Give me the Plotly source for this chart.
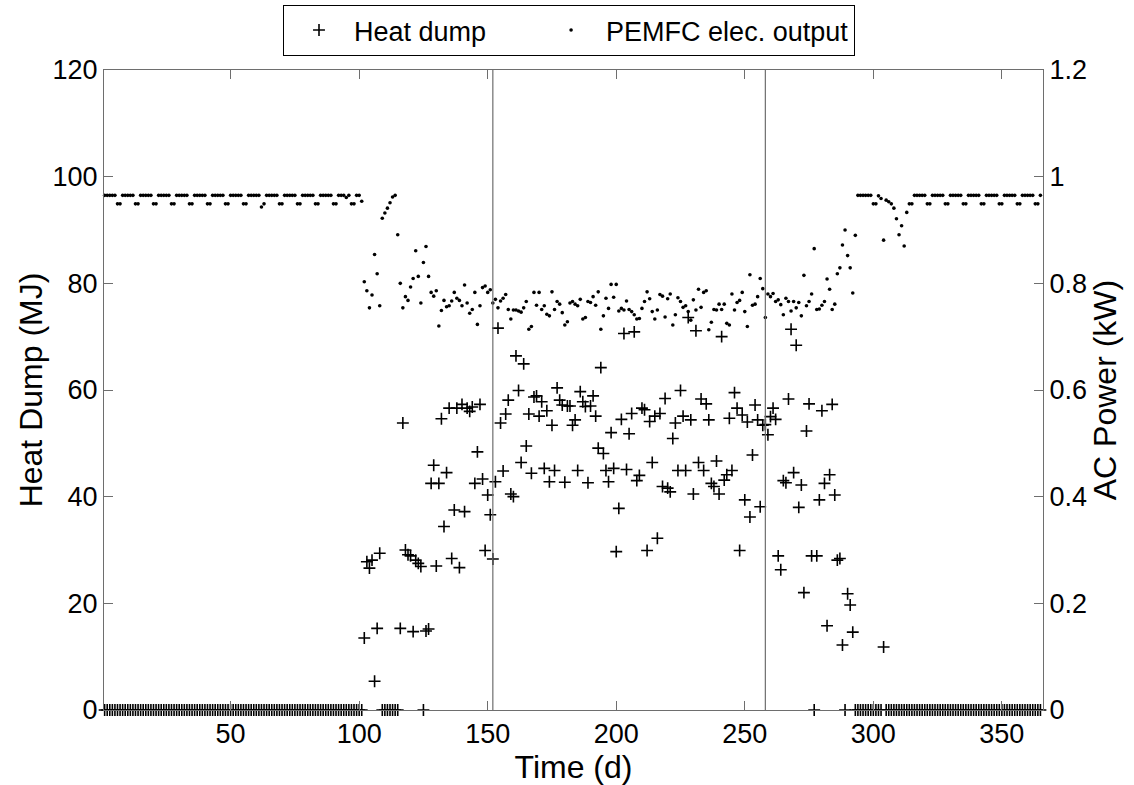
import plotly.graph_objects as go

# ---------------- data ----------------
days = list(range(1, 366))

season_bounds = [152, 258]

heat_dump_mj = [
    # days 1-101
    0, 0, 0, 0, 0, 0, 0, 0, 0, 0,
    0, 0, 0, 0, 0, 0, 0, 0, 0, 0,
    0, 0, 0, 0, 0, 0, 0, 0, 0, 0,
    0, 0, 0, 0, 0, 0, 0, 0, 0, 0,
    0, 0, 0, 0, 0, 0, 0, 0, 0, 0,
    0, 0, 0, 0, 0, 0, 0, 0, 0, 0,
    0, 0, 0, 0, 0, 0, 0, 0, 0, 0,
    0, 0, 0, 0, 0, 0, 0, 0, 0, 0,
    0, 0, 0, 0, 0, 0, 0, 0, 0, 0,
    0, 0, 0, 0, 0, 0, 0, 0, 0, 0,
    0,
    # days 102-111
    13.5, 27.8, 26.6, 28.1, 5.4, 15.3, 29.4, 0, 0, 0,
    # 112-121
    0, 0, 0, 0, 15.3, 53.8, 30.0, 29.1, 28.9, 14.7,
    # 122-131
    28.1, 27.5, 26.9, 0, 14.8, 15.2, 42.5, 45.9, 27.0, 42.5,
    # 132-141
    54.6, 34.4, 44.5, 56.6, 28.4, 37.5, 56.6, 26.7, 57.3, 37.2,
    # 142-151
    56.6, 56.0, 56.8, 42.5, 48.4, 57.3, 43.3, 29.9, 40.3, 36.6,
    # 152-161
    28.3, 42.8, 71.6, 53.8, 44.8, 55.5, 58.1, 40.5, 40.0, 66.4,
    # 162-171
    59.9, 46.4, 64.9, 49.5, 55.5, 44.4, 58.7, 58.9, 55.1, 57.8,
    # 172-181
    45.3, 56.1, 42.8, 53.4, 44.9, 60.4, 58.1, 57.2, 42.7, 57.0,
    # 182-191
    57.0, 53.4, 54.4, 44.9, 59.7, 57.8, 56.9, 42.6, 57.0, 58.9,
    # 192-201
    55.1, 49.1, 64.2, 48.1, 44.9, 42.8, 52.0, 45.3, 29.7, 37.8,
    # 202-211
    54.5, 70.6, 45.1, 51.8, 55.6, 70.9, 43.0, 44.0, 56.6, 56.3,
    # 212-221
    29.9, 54.1, 46.4, 55.1, 32.2, 55.6, 41.9, 58.4, 41.6, 40.9,
    # 222-231
    50.9, 53.8, 44.9, 59.9, 55.1, 44.9, 73.6, 54.4, 40.5, 71.1,
    # 232-241
    46.4, 58.3, 44.9, 57.4, 54.4, 42.5, 41.9, 46.7, 40.5, 70.0,
    # 242-251
    43.1, 44.1, 54.7, 44.9, 59.5, 56.6, 29.9, 55.3, 39.4, 54.0,
    # 252-261
    36.2, 47.8, 57.2, 54.4, 38.1, 53.4, 53.5, 51.6, 55.0, 56.6,
    # 262-271
    54.5, 28.9, 26.3, 43.0, 42.6, 58.3, 71.4, 44.5, 68.4, 38.0,
    # 272-281
    42.2, 22.0, 52.3, 57.4, 28.9, 0, 28.9, 39.4, 56.1, 42.5,
    # 282-291
    15.8, 44.1, 57.3, 40.3, 28.1, 28.4, 12.2, 0, 21.8, 19.7,
    # 292-303
    14.6, 0, 0, 0, 0, 0, 0, 0, 0, 0, 0, 0,
    # 304
    11.8,
    # 305-365
    0, 0, 0, 0, 0, 0, 0, 0, 0, 0,
    0, 0, 0, 0, 0, 0, 0, 0, 0, 0,
    0, 0, 0, 0, 0, 0, 0, 0, 0, 0,
    0, 0, 0, 0, 0, 0, 0, 0, 0, 0,
    0, 0, 0, 0, 0, 0, 0, 0, 0, 0,
    0, 0, 0, 0, 0, 0, 0, 0, 0, 0,
    0,
]

ac_power_kw = [
    # days 1-98, one row per week
    0.965, 0.965, 0.965, 0.965, 0.965, 0.949, 0.949,
    0.965, 0.965, 0.965, 0.965, 0.965, 0.949, 0.949,
    0.965, 0.965, 0.965, 0.965, 0.965, 0.949, 0.949,
    0.965, 0.965, 0.965, 0.965, 0.965, 0.949, 0.949,
    0.965, 0.965, 0.965, 0.965, 0.965, 0.949, 0.949,
    0.965, 0.965, 0.965, 0.965, 0.965, 0.949, 0.949,
    0.965, 0.965, 0.965, 0.965, 0.965, 0.949, 0.949,
    0.965, 0.965, 0.965, 0.965, 0.965, 0.949, 0.949,
    0.965, 0.965, 0.965, 0.965, 0.965, 0.943, 0.949,
    0.965, 0.965, 0.965, 0.965, 0.965, 0.949, 0.949,
    0.965, 0.965, 0.965, 0.965, 0.965, 0.949, 0.949,
    0.965, 0.965, 0.965, 0.965, 0.965, 0.949, 0.949,
    0.965, 0.965, 0.965, 0.965, 0.965, 0.949, 0.949,
    0.965, 0.965, 0.965, 0.961, 0.965, 0.949, 0.949,
    # 99-101
    0.965, 0.965, 0.954,
    # 102-111
    0.803, 0.786, 0.754, 0.778, 0.854, 0.818, 0.758, 0.922, 0.932, 0.941,
    # 112-121
    0.951, 0.962, 0.965, 0.891, 0.800, 0.754, 0.775, 0.768, 0.793, 0.809,
    # 122-131
    0.861, 0.813, 0.763, 0.839, 0.869, 0.813, 0.783, 0.776, 0.786, 0.720,
    # 132-141
    0.749, 0.768, 0.756, 0.758, 0.767, 0.783, 0.772, 0.768, 0.758, 0.797,
    # 142-151
    0.763, 0.744, 0.751, 0.783, 0.723, 0.758, 0.792, 0.795, 0.783, 0.788,
    # 152-161
    0.763, 0.770, 0.754, 0.767, 0.772, 0.779, 0.751, 0.733, 0.750, 0.750,
    # 162-171
    0.748, 0.746, 0.754, 0.766, 0.714, 0.719, 0.783, 0.759, 0.783, 0.751,
    # 172-181
    0.758, 0.742, 0.739, 0.784, 0.751, 0.766, 0.761, 0.745, 0.722, 0.728,
    # 182-191
    0.763, 0.766, 0.761, 0.758, 0.770, 0.733, 0.736, 0.766, 0.764, 0.775,
    # 192-201
    0.759, 0.784, 0.714, 0.739, 0.772, 0.753, 0.798, 0.774, 0.798, 0.748,
    # 202-211
    0.753, 0.750, 0.767, 0.751, 0.747, 0.741, 0.733, 0.734, 0.753, 0.766,
    # 212-221
    0.784, 0.771, 0.747, 0.733, 0.750, 0.779, 0.776, 0.737, 0.771, 0.780,
    # 222-231
    0.722, 0.741, 0.773, 0.766, 0.755, 0.758, 0.747, 0.731, 0.769, 0.750,
    # 232-241
    0.789, 0.755, 0.783, 0.786, 0.713, 0.727, 0.751, 0.750, 0.761, 0.751,
    # 242-251
    0.761, 0.725, 0.722, 0.780, 0.750, 0.764, 0.768, 0.783, 0.747, 0.719,
    # 252-261
    0.816, 0.759, 0.761, 0.775, 0.809, 0.790, 0.736, 0.780, 0.775, 0.781,
    # 262-271
    0.766, 0.769, 0.760, 0.741, 0.772, 0.766, 0.748, 0.766, 0.754, 0.764,
    # 272-281
    0.739, 0.815, 0.758, 0.766, 0.780, 0.865, 0.751, 0.752, 0.759, 0.766,
    # 282-291
    0.808, 0.789, 0.751, 0.761, 0.818, 0.829, 0.872, 0.900, 0.852, 0.829,
    # 292-301
    0.782, 0.890, 0.965, 0.965, 0.965, 0.965, 0.965, 0.965, 0.949, 0.949,
    # 302-315
    0.964, 0.959, 0.881, 0.956, 0.953, 0.949, 0.941, 0.921, 0.891, 0.908,
    0.870, 0.933, 0.949, 0.949,
    # 316-364, one row per week
    0.965, 0.965, 0.965, 0.965, 0.965, 0.949, 0.949,
    0.965, 0.965, 0.965, 0.965, 0.965, 0.949, 0.949,
    0.965, 0.965, 0.965, 0.965, 0.965, 0.949, 0.949,
    0.965, 0.965, 0.965, 0.965, 0.965, 0.949, 0.949,
    0.965, 0.965, 0.965, 0.965, 0.965, 0.949, 0.949,
    0.965, 0.965, 0.965, 0.965, 0.965, 0.949, 0.949,
    0.965, 0.965, 0.965, 0.965, 0.965, 0.949, 0.949,
    # 365
    0.965,
]

assert len(heat_dump_mj) == 365, len(heat_dump_mj)
assert len(ac_power_kw) == 365, len(ac_power_kw)

x_ticks = [50, 100, 150, 200, 250, 300, 350]

# ---------------- figure ----------------
FONT = "Liberation Sans, Arial, Helvetica, sans-serif"
AXIS_COLOR = "#6e6e6e"
FS = 27
PAD = "\u00a0" * 6  # extra spacing between the two legend entries

fig = go.Figure()

fig.add_trace(go.Scatter(
    x=days, y=heat_dump_mj, mode="markers", name="Heat dump" + PAD,
    marker=dict(symbol="cross-thin", size=8.5, color="black",
                line=dict(width=1.6, color="black")),
    cliponaxis=False,
))

fig.add_trace(go.Scatter(
    x=days, y=ac_power_kw, mode="markers", name="PEMFC elec. output",
    yaxis="y2",
    marker=dict(symbol="circle", size=3.6, color="black", line=dict(width=0)),
    cliponaxis=False,
))

for xb in season_bounds:
    fig.add_shape(type="line", xref="x", yref="y", x0=xb, x1=xb, y0=0, y1=120,
                  line=dict(color=AXIS_COLOR, width=1.2), layer="above")

fig.update_layout(
    width=1134, height=785,
    margin=dict(l=104, r=91, t=70, b=75, autoexpand=False),
    paper_bgcolor="white", plot_bgcolor="white",
    font=dict(family=FONT, size=FS, color="black"),
    showlegend=True,
    legend=dict(orientation="h", xref="container", yref="container",
                x=283 / 1134, xanchor="left", y=1 - 5 / 785, yanchor="top",
                bordercolor="black", borderwidth=1, bgcolor="white",
                font=dict(size=FS), itemwidth=60, tracegroupgap=0),
    xaxis=dict(range=[0.75, 366], tickvals=x_ticks, ticks="inside", ticklen=9,
               tickcolor=AXIS_COLOR, showline=True, linecolor=AXIS_COLOR, linewidth=1,
               mirror="ticks", showgrid=False, zeroline=False,
               title=dict(text="Time (d)", standoff=4)),
    yaxis=dict(range=[0, 120], tickvals=[0, 20, 40, 60, 80, 100, 120], ticks="inside",
               ticklen=9, tickcolor=AXIS_COLOR, showline=True, linecolor=AXIS_COLOR,
               linewidth=1, showgrid=False, zeroline=False,
               title=dict(text="Heat Dump (MJ)", standoff=0)),
    yaxis2=dict(range=[0, 1.2], tickvals=[0, 0.2, 0.4, 0.6, 0.8, 1, 1.2],
                ticktext=["0", "0.2", "0.4", "0.6", "0.8", "1", "1.2"],
                overlaying="y", side="right", ticks="inside", ticklen=9,
                tickcolor=AXIS_COLOR, showline=True, linecolor=AXIS_COLOR, linewidth=1,
                showgrid=False, zeroline=False,
                title=dict(text="AC Power (kW)", standoff=6)),
)

fig.write_html("out.html", config={"displayModeBar": False},
               post_script="document.body.style.margin='0';")
